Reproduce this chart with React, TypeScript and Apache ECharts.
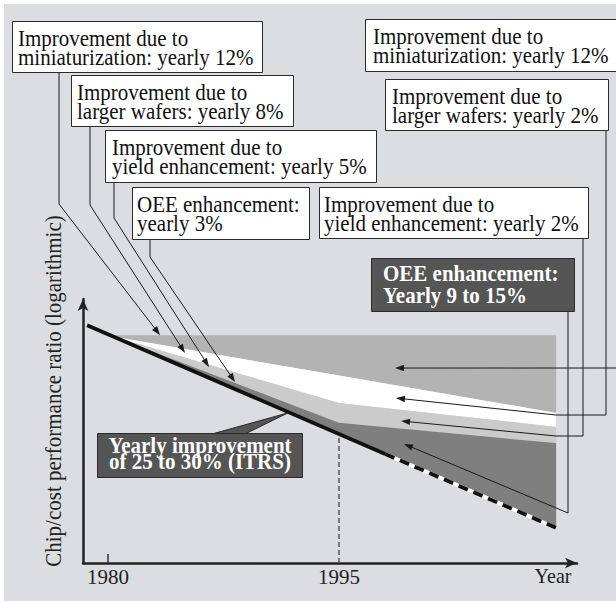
import React, { useEffect, useRef } from "react";
import * as echarts from "echarts";

// ---- data (years on x, log chip/cost ratio in arbitrary units on y) ----
const tickYears = [1980, 1995];
const tickMarkYears = [1980];
const X_MIN = 1978.3766;
const X_MAX = 2010.4545;
const Y_MIN = 0;
const Y_MAX = 97.78;

const blackSolidYears = [1978.64, 1998];
const blackSolidValues = [88.1, 40.4];
const blackDashYears = [1998, 2009.1];
const blackDashValues = [40.4, 13.0];

const refYears = [1995, 1995];
const refValues = [0, 47.7];

const bandYears = [1980.4, 1995, 2009.1];
const bandTop = [84.4, 84.4, 84.4];
const whiteTop = [83.8, 69.4, 55.6];
const lightTop = [83.8, 59.3, 50.4];
const darkTop = [83.8, 51.9, 44.4];
const blackBase = [83.8, 47.7, 13.0];

const leftTipYears = [1983.38, 1985.0, 1986.56, 1988.25];
const leftTipValues = [84.4, 77.8, 72.6, 67.0];
const rightTipYears = [1998.64, 1998.7, 1999.03, 1999.22];
const rightTipValues = [72.2, 61.1, 52.6, 44.1];
const itrsTip = [1991.69, 55.6];

const leftTexts = [
  "Improvement due to\nminiaturization: yearly 12%",
  "Improvement due to\nlarger wafers: yearly 8%",
  "Improvement due to\nyield enhancement: yearly 5%",
  "OEE enhancement:\nyearly 3%",
];
const rightTexts = [
  "Improvement due to\nminiaturization: yearly 12%",
  "Improvement due to\nlarger wafers: yearly 2%",
  "Improvement due to\nyield enhancement: yearly 2%",
  "OEE enhancement:\nYearly 9 to 15%",
];
const itrsText = "Yearly improvement\nof 25 to 30% (ITRS)";
const yName = "Chip/cost performance ratio (logarithmic)";
const xName = "Year";

const SERIF = "Liberation Serif, 'Times New Roman', serif";

function arrowHead(p: number[], t: number[], len = 9, half = 3.2) {
  const dx = t[0] - p[0];
  const dy = t[1] - p[1];
  const L = Math.hypot(dx, dy) || 1;
  const ux = dx / L;
  const uy = dy / L;
  const bx = t[0] - ux * len;
  const by = t[1] - uy * len;
  return {
    head: [
      [t[0], t[1]],
      [bx - uy * half, by + ux * half],
      [bx + uy * half, by - ux * half],
    ],
    base: [t[0] - ux * (len - 2), t[1] - uy * (len - 2)],
  };
}

export default function App() {
  const ref = useRef<HTMLDivElement>(null);

  useEffect(() => {
    const chart = echarts.init(ref.current!, null, { renderer: "svg" });
    const bands = [
      { upper: bandTop, lower: whiteTop, color: "#b3b3b3" },
      { upper: whiteTop, lower: lightTop, color: "#ffffff" },
      { upper: lightTop, lower: darkTop, color: "#cbcbcb" },
      { upper: darkTop, lower: blackBase, color: "#7f7f7f" },
    ];

    const option: any = {
      animation: false,
      backgroundColor: "#ffffff",
      grid: { left: 83, right: 39, top: 299, bottom: 40 },
      xAxis: {
        type: "value",
        min: X_MIN,
        max: X_MAX,
        splitLine: { show: false },
        axisLine: {
          show: true,
          onZero: false,
          symbol: ["none", "arrow"],
          symbolSize: [8, 12],
          lineStyle: { color: "#222", width: 2.5 },
        },
        axisTick: {
          show: true,
          customValues: tickMarkYears,
          inside: true,
          length: 9,
          lineStyle: { color: "#333", width: 1.5 },
        },
        axisLabel: {
          customValues: tickYears,
          fontSize: 21,
          fontFamily: SERIF,
          color: "#222",
          margin: 3,
          formatter: (v: number) => String(Math.round(v)),
        },
      },
      yAxis: {
        type: "value",
        min: Y_MIN,
        max: Y_MAX,
        splitLine: { show: false },
        axisTick: { show: false },
        axisLabel: { show: false },
        axisLine: {
          show: true,
          onZero: false,
          symbol: ["none", "arrow"],
          symbolSize: [8, 12],
          lineStyle: { color: "#222", width: 2.5 },
        },
      },
      series: [
        {
          type: "custom",
          silent: true,
          clip: false,
          z: 1,
          encode: { x: 0, y: 1 },
          data: bands.map((b, i) => [bandYears[0], b.upper[0], i]),
          renderItem: (_p: any, api: any) => {
            const b = bands[api.value(2)];
            const pts: number[][] = [];
            bandYears.forEach((yr, k) => pts.push(api.coord([yr, b.upper[k]])));
            for (let k = bandYears.length - 1; k >= 0; k--) pts.push(api.coord([bandYears[k], b.lower[k]]));
            return { type: "polygon", shape: { points: pts }, style: { fill: b.color } };
          },
        },
        {
          type: "line",
          silent: true,
          z: 3,
          showSymbol: false,
          data: refYears.map((y, i) => [y, refValues[i]]),
          lineStyle: { color: "#555", width: 1.5, type: [5, 3] },
        },
        {
          type: "line",
          silent: true,
          z: 5,
          showSymbol: false,
          data: blackSolidYears.map((y, i) => [y, blackSolidValues[i]]),
          lineStyle: { color: "#111", width: 3.8, cap: "butt" },
        },
        {
          type: "line",
          silent: true,
          z: 4,
          showSymbol: false,
          data: blackDashYears.map((y, i) => [y, blackDashValues[i]]),
          lineStyle: { color: "#ffffff", width: 3.8, cap: "butt" },
        },
        {
          type: "line",
          silent: true,
          z: 5,
          showSymbol: false,
          data: blackDashYears.map((y, i) => [y, blackDashValues[i]]),
          lineStyle: { color: "#111", width: 3.8, type: [10, 6], cap: "butt" },
        },
      ],
    };
    chart.setOption(option);

    const toPx = (x: number, y: number) => chart.convertToPixel({ gridIndex: 0 }, [x, y]) as number[];

    const graphic: any[] = [];
    graphic.push({
      type: "rect",
      z: -10,
      silent: true,
      shape: { x: 4, y: 4, width: 612, height: 597 },
      style: { fill: "#dcdde0" },
    });

    const lineColor = "#1a1a1a";
    const leader = (pre: number[][], tip: number[]) => {
      const last = pre[pre.length - 1];
      const a = arrowHead(last, tip);
      graphic.push({
        type: "polyline",
        z: 50,
        silent: true,
        shape: { points: [...pre, a.base] },
        style: { stroke: lineColor, lineWidth: 1, fill: null },
      });
      graphic.push({
        type: "polygon",
        z: 50,
        silent: true,
        shape: { points: a.head },
        style: { fill: lineColor },
      });
    };

    const leftPre = [
      [[59, 72], [59, 204]],
      [[90, 126], [90, 205]],
      [[114, 182], [114, 218]],
      [[150, 239], [150, 257]],
    ];
    leftPre.forEach((pre, i) => leader(pre, toPx(leftTipYears[i], leftTipValues[i])));
    const rightPre = [
      [[620, 368]],
      [[606, 130], [606, 415], [556, 415]],
      [[583, 238], [583, 436], [556, 436]],
      [[568, 311], [568, 513]],
    ];
    rightPre.forEach((pre, i) => leader(pre, toPx(rightTipYears[i], rightTipValues[i])));

    const box = (x0: number, y0: number, x1: number, y1: number, text: string, padX: number, dark = false) => {
      graphic.push({
        type: "rect",
        z: 60,
        silent: true,
        shape: { x: x0 + 0.5, y: y0 + 0.5, width: x1 - x0, height: y1 - y0 },
        style: { fill: dark ? "#555555" : "#ffffff", stroke: "#2a2a2a", lineWidth: 1 },
      });
      graphic.push({
        type: "text",
        z: 61,
        silent: true,
        x: x0 + padX,
        y: (y0 + y1) / 2 + (dark ? 0 : 1),
        scaleY: 1.1,
        style: {
          text,
          fontSize: 21,
          fontWeight: dark ? "bold" : "normal",
          fontFamily: SERIF,
          fill: dark ? "#ffffff" : "#111111",
          lineHeight: dark ? 20 : 17.3,
          align: "left",
          verticalAlign: "middle",
        },
      });
    };

    box(12, 21, 262, 72, leftTexts[0], 6);
    box(71, 75, 293, 126, leftTexts[1], 6);
    box(105, 130, 376, 182, leftTexts[2], 7);
    box(132, 187, 309, 239, leftTexts[3], 5);
    box(365, 19, 620, 71, rightTexts[0], 8);
    box(385, 79, 608, 130, rightTexts[1], 7);
    box(319, 187, 588, 238, rightTexts[2], 5);
    box(371, 258, 574, 311, rightTexts[3], 12, true);

    // ITRS callout
    const tip = toPx(itrsTip[0], itrsTip[1]);
    graphic.push({
      type: "polygon",
      z: 60,
      silent: true,
      shape: { points: [[212, 434], tip, [245, 434]] },
      style: { fill: "#555555", stroke: "#2a2a2a", lineWidth: 1 },
    });
    graphic.push({
      type: "rect",
      z: 61,
      silent: true,
      shape: { x: 97.5, y: 433.5, width: 205, height: 44 },
      style: { fill: "#555555", stroke: "#2a2a2a", lineWidth: 1 },
    });
    graphic.push({
      type: "text",
      z: 62,
      silent: true,
      x: 200,
      y: 454,
      scaleY: 1.05,
      style: {
        text: itrsText,
        fontSize: 21,
        fontWeight: "bold",
        fontFamily: SERIF,
        fill: "#ffffff",
        lineHeight: 15,
        align: "center",
        verticalAlign: "middle",
      },
    });

    // axis names
    graphic.push({
      type: "text",
      z: 20,
      silent: true,
      x: 53,
      y: 391,
      rotation: Math.PI / 2,
      scaleY: 1.1,
      style: {
        text: yName,
        fontSize: 21,
        fontFamily: SERIF,
        fill: "#222",
        align: "center",
        verticalAlign: "middle",
      },
    });
    graphic.push({
      type: "text",
      z: 20,
      silent: true,
      x: 553,
      y: 576,
      scaleY: 1.1,
      style: {
        text: xName,
        fontSize: 20,
        fontFamily: SERIF,
        fill: "#222",
        align: "center",
        verticalAlign: "middle",
      },
    });

    chart.setOption({ graphic });

    return () => chart.dispose();
  }, []);

  return (
    <div
      ref={ref}
      style={{ position: "fixed", left: 0, top: 0, width: 616, height: 603 }}
    />
  );
}
